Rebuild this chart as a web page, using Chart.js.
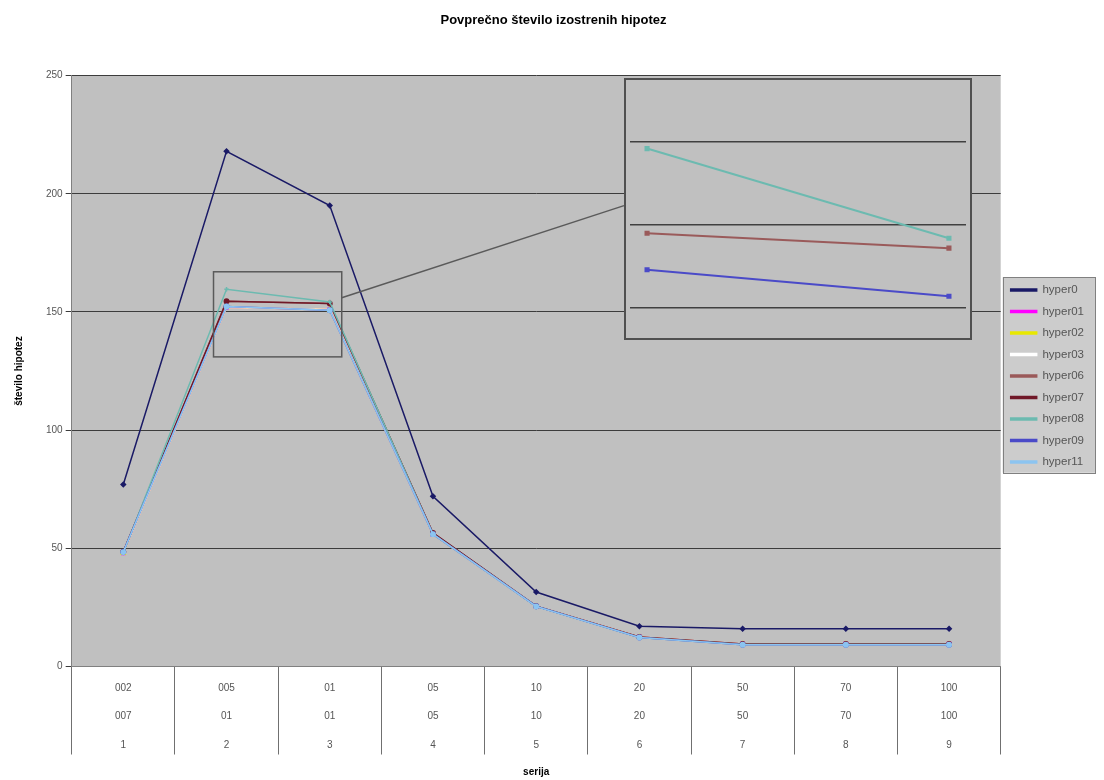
<!DOCTYPE html>
<html>
<head>
<meta charset="utf-8">
<script src="https://cdn.jsdelivr.net/npm/chart.js@4.4.0/dist/chart.umd.min.js"></script>
<style>
  body { margin: 0; background: #fff; }
  #wrap { position: relative; width: 1104px; height: 780px; }
  #inset { position: absolute; left: 624px; top: 78px; }
</style>
</head>
<body>
<div id="wrap">
  <canvas id="myChart" width="1104" height="780"></canvas>
  <canvas id="inset" width="348" height="262"></canvas>
</div>
<script>
  // category labels (three rows under each column)
  const row1 = ["002", "005", "01", "05", "10", "20", "50", "70", "100"];
  const row2 = ["007", "01", "01", "05", "10", "20", "50", "70", "100"];
  const row3 = ["1", "2", "3", "4", "5", "6", "7", "8", "9"];

  // series
  const hyper0  = [77, 218, 195, 72, 31.5, 17, 16, 16, 16];
  const hyper01 = [48, 152, 151, 56, 25.5, 12.5, 9.5, 9.5, 9.5];
  const hyper02 = [48, 152, 151, 56, 25.5, 12.5, 9.5, 9.5, 9.5];
  const hyper03 = [48, 152, 151, 56, 25.5, 12.5, 9.5, 9.5, 9.5];
  const hyper06 = [48.5, 154.5, 153.6, 56.5, 25.5, 12.5, 9.5, 9.5, 9.5];
  const hyper07 = [48.5, 154.5, 153.6, 56.5, 25.5, 12.5, 9.5, 9.5, 9.5];
  const hyper08 = [48, 159.6, 154.2, 56, 25.5, 12.3, 9.3, 9.3, 9.3];
  const hyper09 = [48.5, 152.3, 150.7, 56, 25.5, 12.3, 9.2, 9.2, 9.2];
  const hyper11 = [48.4, 152.3, 150.7, 56, 25.4, 12.3, 9.2, 9.2, 9.2];

  const names  = ["hyper0", "hyper01", "hyper02", "hyper03", "hyper06", "hyper07", "hyper08", "hyper09", "hyper11"];
  const values = [hyper0, hyper01, hyper02, hyper03, hyper06, hyper07, hyper08, hyper09, hyper11];
  const colors = ["#1a1a66", "#ff00ff", "#e8e800", "#ffffff", "#9a5a5a", "#701828", "#6cbab0", "#4a4ac8", "#8cc4f0"];
  const marks  = ["rectRot", "rect", "triangle", "crossRot", "star", "circle", "cross", "circle", "circle"];

  const yTicks = [0, 50, 100, 150, 200, 250];

  const labels = row1.map((s, i) => [s, row2[i], row3[i]]);
  const insetBox = { left: 624, top: 78, width: 348, height: 262 };
  const labelShift = 81;
  const legendLift = 13;

  const decor = {
    id: "decor",
    afterLayout(chart) {
      // Excel centres the legend a bit higher than chart.js does
      chart.legend.top -= legendLift;
      chart.legend.bottom -= legendLift;
    },
    beforeDraw(chart) {
      const ctx = chart.ctx, a = chart.chartArea;
      ctx.save();
      ctx.fillStyle = "#c0c0c0";
      ctx.fillRect(a.left, a.top, a.right - a.left, a.bottom - a.top);
      // legend frame
      const hb = chart.legend.legendHitBoxes;
      if (hb && hb.length) {
        let l = Infinity, t = Infinity, r = -Infinity, b = -Infinity;
        hb.forEach(h => {
          l = Math.min(l, h.left); t = Math.min(t, h.top);
          r = Math.max(r, h.left + h.width); b = Math.max(b, h.top + h.height);
        });
        l -= 8; t -= 7; r += 11; b += 5;
        ctx.fillStyle = "#cccccc";
        ctx.fillRect(l, t, r - l, b - t);
        ctx.strokeStyle = "#808080";
        ctx.lineWidth = 1;
        ctx.strokeRect(Math.round(l) + 0.5, Math.round(t) + 0.5, Math.round(r - l), Math.round(b - t));
      }
      ctx.restore();
    },
    afterDatasetsDraw(chart) {
      const ctx = chart.ctx, x = chart.scales.x, y = chart.scales.y;
      const x0 = x.getPixelForValue(1) - 13, x1 = x.getPixelForValue(2) + 12;
      const y0 = y.getPixelForValue(167), y1 = y.getPixelForValue(131);
      ctx.save();
      ctx.strokeStyle = "#5a5a5a";
      ctx.lineWidth = 1.5;
      ctx.strokeRect(x0, y0, x1 - x0, y1 - y0);
      ctx.beginPath();
      ctx.moveTo(x1, y.getPixelForValue(156));
      ctx.lineTo(insetBox.left, y.getPixelForValue(195));
      ctx.stroke();
      ctx.restore();
    }
  };

  const config1 = {
    type: "line",
    data: {
      labels: labels,
      datasets: names.map((n, i) => ({
        label: n,
        data: values[i],
        borderColor: colors[i],
        backgroundColor: colors[i],
        pointStyle: marks[i],
        pointRadius: 2.2,
        pointBorderColor: colors[i],
        pointBackgroundColor: colors[i],
        borderWidth: 1.5,
        tension: 0,
        order: names.length - 1 - i
      }))
    },
    options: {
      responsive: false,
      animation: false,
      devicePixelRatio: 1,
      layout: { padding: { left: 13, right: 10, top: 0, bottom: 2 } },
      plugins: {
        title: {
          display: true,
          text: "Povprečno število izostrenih hipotez",
          color: "#000",
          font: { family: "Liberation Sans", size: 13, weight: "bold" },
          padding: { top: 13, bottom: 47 }
        },
        legend: {
          position: "right",
          reverse: true,
          labels: {
            color: "#555",
            boxWidth: 26,
            boxHeight: 2,
            padding: 10,
            font: { family: "Liberation Sans", size: 11.5 }
          }
        },
        tooltip: { enabled: false }
      },
      scales: {
        x: {
          type: "category",
          offset: true,
          grid: { offset: true, drawOnChartArea: false, drawTicks: true, tickLength: 88, color: "#707070" },
          border: { display: true, color: "#808080" },
          ticks: {
            padding: -labelShift,
            color: "#555",
            autoSkip: false,
            maxRotation: 0,
            font: { family: "Liberation Sans", size: 10, lineHeight: 2.85 }
          },
          title: {
            display: true,
            text: "serija",
            color: "#000",
            font: { family: "Liberation Sans", size: 10, weight: "bold" },
            padding: { top: 2 * labelShift - 74, bottom: 0 }
          }
        },
        y: {
          min: 0,
          max: 250,
          afterBuildTicks: s => { s.ticks = yTicks.map(v => ({ value: v })); },
          grid: { color: "#3c3c3c", lineWidth: 1, tickLength: 6 },
          border: { display: true, color: "#808080" },
          ticks: { color: "#555", padding: 3, font: { family: "Liberation Sans", size: 10 } },
          title: {
            display: true,
            text: "število hipotez",
            color: "#000",
            font: { family: "Liberation Sans", size: 10, weight: "bold" },
            padding: { top: 0, bottom: 18 }
          }
        }
      }
    },
    plugins: [decor]
  };
  var myChart1 = new Chart(document.getElementById("myChart"), config1);

  // magnified view of columns 2 and 3
  const insetNames = ["hyper08", "hyper06", "hyper09"];
  const insetGrid = [150, 155, 160];

  const insetFrame = {
    id: "insetFrame",
    beforeDraw(chart) {
      const ctx = chart.ctx;
      ctx.save();
      ctx.fillStyle = "#c0c0c0";
      ctx.fillRect(0, 0, chart.width, chart.height);
      ctx.restore();
    },
    afterDraw(chart) {
      const ctx = chart.ctx;
      ctx.save();
      ctx.strokeStyle = "#505050";
      ctx.lineWidth = 2;
      ctx.strokeRect(1, 1, chart.width - 2, chart.height - 2);
      ctx.restore();
    }
  };

  const config2 = {
    type: "line",
    data: {
      datasets: insetNames.map(n => {
        const i = names.indexOf(n);
        return {
          label: n,
          data: values[i].slice(1, 3).map((v, k) => ({ x: k, y: v })),
          borderColor: colors[i],
          backgroundColor: colors[i],
          pointRadius: 2.2,
          pointStyle: "rect",
          borderWidth: 2,
          tension: 0
        };
      })
    },
    options: {
      responsive: false,
      animation: false,
      devicePixelRatio: 1,
      layout: { padding: 0 },
      plugins: { legend: { display: false }, title: { display: false }, tooltip: { enabled: false } },
      scales: {
        x: { type: "linear", min: -0.0565, max: 1.0565, display: false },
        y: {
          min: 148.43,
          max: 163.49,
          afterBuildTicks: s => { s.ticks = insetGrid.map(v => ({ value: v })); },
          grid: { color: "#404040", lineWidth: 1.5, drawTicks: false },
          border: { display: false },
          ticks: { display: false }
        }
      }
    },
    plugins: [insetFrame]
  };
  var myChart2 = new Chart(document.getElementById("inset"), config2);
</script>
</body>
</html>
